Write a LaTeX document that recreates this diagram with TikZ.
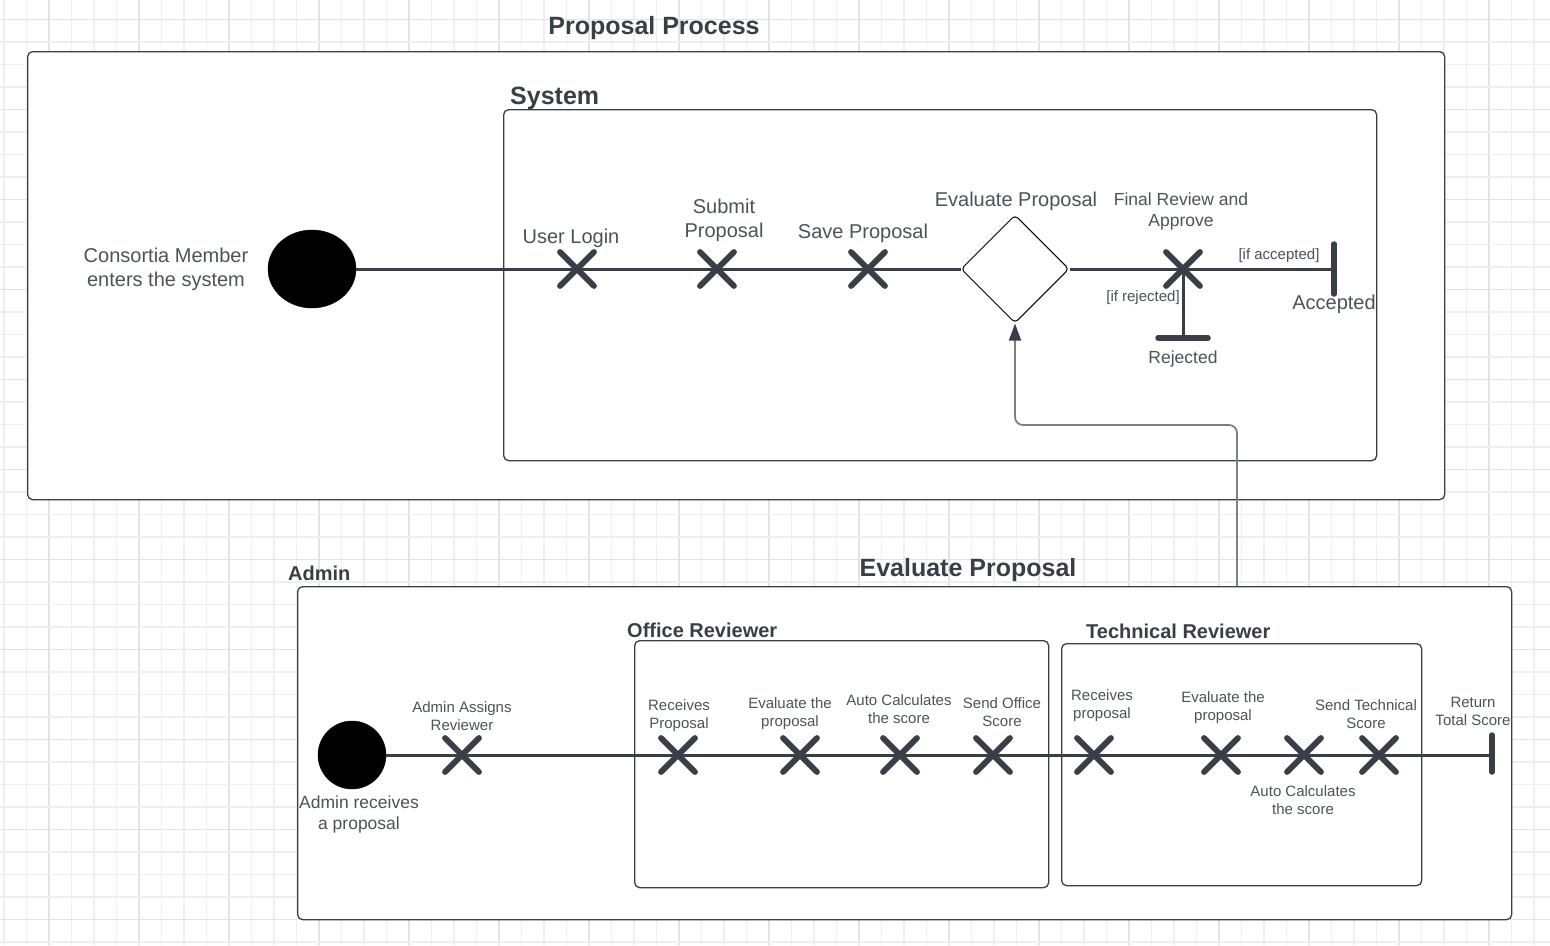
\documentclass[tikz,border=0pt]{standalone}
\usepackage{fontspec}
\setmainfont{Liberation Sans}
\usetikzlibrary{shapes.geometric,shapes.misc,arrows.meta,calc}
\definecolor{ink}{HTML}{3A3F47}
\definecolor{txt}{HTML}{4D535B}
\definecolor{gridminor}{HTML}{EFEFEF}
\definecolor{gridmajor}{HTML}{E3E3E3}
\definecolor{linkc}{HTML}{7C8086}
\begin{document}
\begin{tikzpicture}[x=1pt,y=-1pt,
  lane/.style={draw=ink,line width=1.3pt,fill=white,rounded corners=5pt,anchor=north west,inner sep=0pt},
  flow/.style={draw=ink,line width=3pt},
  xmark/.style={cross out,draw=ink,line width=5.8pt,line cap=round,minimum size=34pt,inner sep=0pt,outer sep=0pt},
  endbar/.style={draw=ink,line width=5.5pt,line cap=round},
  lblL/.style={text=txt,font=\fontsize{20}{24}\selectfont,align=center,inner sep=0pt},
  lblM/.style={text=txt,font=\fontsize{17.5}{21}\selectfont,align=center,inner sep=0pt},
  lblS/.style={text=txt,font=\fontsize{15}{18}\selectfont,align=center,inner sep=0pt},
  ttlL/.style={text=ink,font=\bfseries\fontsize{25}{30}\selectfont,inner sep=0pt},
  ttlS/.style={text=ink,font=\bfseries\fontsize{20}{24}\selectfont,inner sep=0pt},
  startdot/.style={fill=black,draw=black,inner sep=0pt},
  link/.style={draw=linkc,line width=1.8pt,rounded corners=8pt,-{Triangle[length=17pt,width=12pt,color=ink,fill=ink]}}
]
\useasboundingbox (0,0) rectangle (1550,945);
% grid
\foreach \k in {0,...,68}{
  \pgfmathtruncatemacro{\m}{mod(\k,4)}
  \ifnum\m=2 \draw[gridmajor,line width=1.2pt] (4+22.5*\k,0) -- (4+22.5*\k,945);
  \else \draw[gridminor,line width=1.2pt] (4+22.5*\k,0) -- (4+22.5*\k,945); \fi
}
\foreach \k in {0,...,41}{
  \pgfmathtruncatemacro{\m}{mod(\k,4)}
  \ifnum\m=0 \draw[gridmajor,line width=1.2pt] (0,19.5+22.5*\k) -- (1550,19.5+22.5*\k);
  \else \draw[gridminor,line width=1.2pt] (0,19.5+22.5*\k) -- (1550,19.5+22.5*\k); \fi
}

% ---------- Proposal Process ----------
\node[lane,minimum width=1417pt,minimum height=448pt] (pp) at (27,51) {};
\node[ttlL] (ppt) at (654,28) {Proposal Process};
\node[lane,minimum width=873pt,minimum height=351pt] (sys) at (503,109) {};
\node[ttlL,anchor=west] (syst) at (510,98) {System};

\node[startdot,ellipse,minimum width=88pt,minimum height=78pt] (s1) at (312,269) {};
\node[lblL] (s1l) at (166,269) {Consortia Member\\enters the system};

\node[diamond,draw=black,line width=1pt,fill=white,rounded corners=4pt,minimum width=108pt,minimum height=108pt,inner sep=0pt] (ev) at (1015,269) {};

\coordinate (a1) at (577,269);
\coordinate (a2) at (717,269);
\coordinate (a3) at (868,269);
\coordinate (a4) at (1183,269);
\coordinate (acc) at (1334,269);
\coordinate (rej) at (1183,338);

\draw[flow] (s1.east) -- (a1) -- (a2) -- (a3) -- (ev.west);
\draw[flow] (ev.east) -- (a4) -- (acc);
\draw[flow] (a4) -- (rej);
\draw[endbar] ($(acc)+(0,-25)$) -- ($(acc)+(0,25)$);
\draw[endbar] ($(rej)+(-25,0)$) -- ($(rej)+(25,0)$);

\node[xmark] (x1) at (a1) {};
\node[xmark] (x2) at (a2) {};
\node[xmark] (x3) at (a3) {};
\node[xmark] (x4) at (a4) {};

\node[lblL] (l1) at (571,238) {User Login};
\node[lblL] (l2) at (724,220) {Submit\\Proposal};
\node[lblL] (l3) at (863,233) {Save Proposal};
\node[lblL] (l4) at (1016,201) {Evaluate Proposal};
\node[lblM] (l5) at (1181,211) {Final Review and\\Approve};
\node[lblS] (l6) at (1279,256) {[if accepted]};
\node[lblS] (l7) at (1143,298) {[if rejected]};
\node[lblL] (l8) at (1334,304) {Accepted};
\node[lblM] (l9) at (1183,359) {Rejected};

% ---------- Admin ----------
\node[lane,minimum width=1214pt,minimum height=333pt] (adm) at (297,586) {};
\node[ttlS,anchor=west] (admt) at (288,573) {Admin};
\node[ttlL] (evt) at (968,570) {Evaluate Proposal};
\node[lane,minimum width=414pt,minimum height=247pt] (off) at (634,640) {};
\node[ttlS,anchor=west] (offt) at (627,630) {Office Reviewer};
\node[lane,minimum width=360pt,minimum height=242pt] (tec) at (1061,643) {};
\node[ttlS,anchor=west] (tect) at (1086,631) {Technical Reviewer};

\node[startdot,circle,minimum size=68pt] (s2) at (352,755) {};
\node[lblM] (s2l) at (359,814) {Admin receives\\a proposal};

\coordinate (b1) at (462,755);
\coordinate (b2) at (678,755);
\coordinate (b3) at (800,755);
\coordinate (b4) at (900,755);
\coordinate (b5) at (993,755);
\coordinate (b6) at (1094,755);
\coordinate (b7) at (1221,755);
\coordinate (b8) at (1304,755);
\coordinate (b9) at (1379,755);
\coordinate (ret) at (1492,755);

\draw[flow] (s2.east) -- (b1) -- (b2) -- (b3) -- (b4) -- (b5) -- (b6) -- (b7) -- (b8) -- (b9) -- (ret);
\draw[endbar] ($(ret)+(0,-20)$) -- ($(ret)+(0,17)$);

\foreach \i in {1,...,9}{ \node[xmark] (y\i) at (b\i) {}; }

\node[lblS] (m1) at (462,716) {Admin Assigns\\Reviewer};
\node[lblS] (m2) at (679,716) {Receives\\Proposal};
\node[lblS] (m3) at (790,714) {Evaluate the\\proposal};
\node[lblS] (m4) at (899,709) {Auto Calculates\\the score};
\node[lblS] (m5) at (1002,712) {Send Office\\Score};
\node[lblS] (m6) at (1102,706) {Receives\\proposal};
\node[lblS] (m7) at (1223,708) {Evaluate the\\proposal};
\node[lblS] (m8) at (1366,714) {Send Technical\\Score};
\node[lblS] (m9) at (1303,800) {Auto Calculates\\the score};
\node[lblS] (m10) at (1473,711) {Return\\Total Score};

% link from Admin to Evaluate Proposal
\coordinate (lk) at (1237,586);
\draw[link] (lk) |- (1015,425) -- (ev.south);
\end{tikzpicture}
\end{document}
